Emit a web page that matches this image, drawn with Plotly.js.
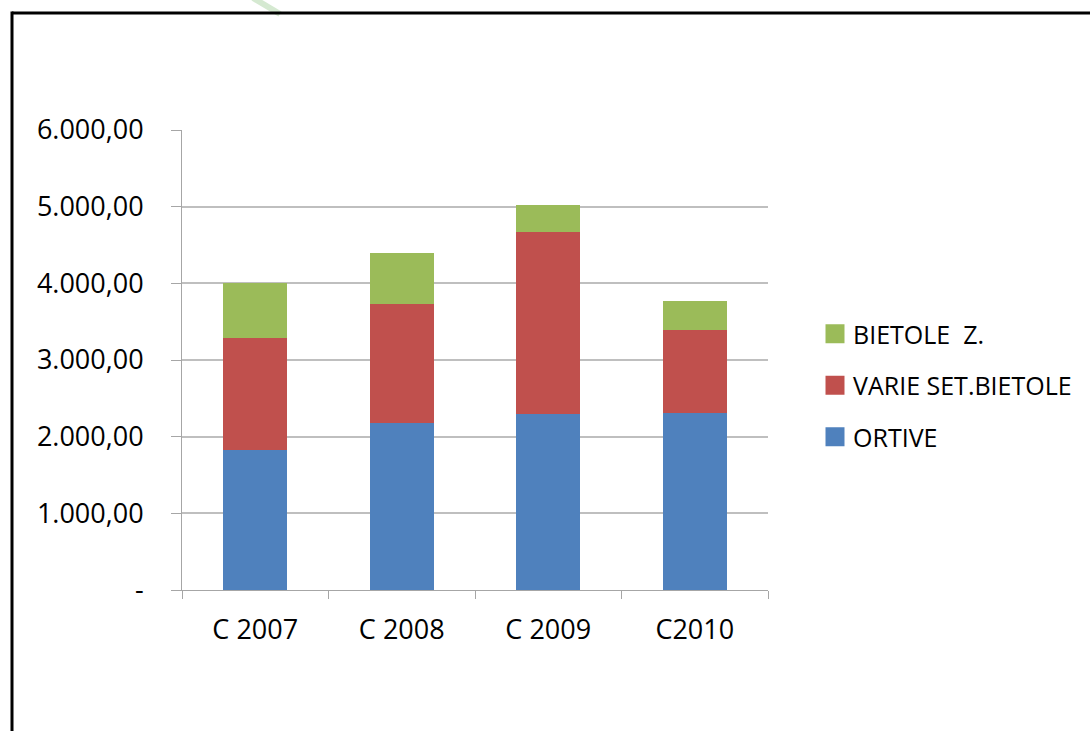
<!DOCTYPE html>
<html>
<head>
<meta charset="utf-8">
<script src="https://cdn.plot.ly/plotly-3.0.1.min.js"></script>
<style>
  html, body { margin: 0; padding: 0; background: #ffffff; }
  #chart { width: 1090px; height: 731px; }
</style>
</head>
<body>
<div id="chart"></div>
<script>
// ---- data ----
const categories = ["C 2007", "C 2008", "C 2009", "C2010"];
const ortive = [1830, 2174, 2292, 2310];
const varieSetBietole = [1451, 1551, 2379, 1076];
const bietoleZ = [719, 667, 349, 379];
const yTickVals = [0, 1000, 2000, 3000, 4000, 5000, 6000];
const yTickText = ["-", "1.000,00", "2.000,00", "3.000,00", "4.000,00", "5.000,00", "6.000,00"];

// ---- layout geometry ----
const W = 1090, H = 731;
const M = { l: 182, r: 322, t: 130, b: 141 };
const pw = W - M.l - M.r, ph = H - M.t - M.b;
const px = x => (x - M.l) / pw;
const py = y => (H - M.b - y) / ph;

const FONT = "Open Sans, Noto Sans, sans-serif";

const series = [
  { name: "ORTIVE", y: ortive, color: "#4f81bd" },
  { name: "VARIE SET.BIETOLE", y: varieSetBietole, color: "#c0504d" },
  { name: "BIETOLE  Z.", y: bietoleZ, color: "#9bbb59" }
];
const traces = series.map((s, i) => ({
  type: "bar",
  name: s.name,
  x: categories,
  y: s.y,
  legendgroup: "g" + i,
  legendrank: series.length - i,
  marker: { color: s.color, line: { width: 0 } }
}));

const layout = {
  width: W, height: H,
  margin: M,
  paper_bgcolor: "#ffffff",
  plot_bgcolor: "#ffffff",
  barmode: "stack",
  bargap: 0.565,
  showlegend: true,
  font: { family: FONT, color: "#000000" },
  xaxis: {
    type: "category",
    showgrid: false,
    showline: true,
    linecolor: "#a6a6a6",
    linewidth: 1,
    ticks: "outside",
    tickson: "boundaries",
    ticklen: 8,
    tickcolor: "#a6a6a6",
    tickfont: { family: FONT, size: 27, color: "#000000" },
    ticklabelstandoff: 16,
    zeroline: false,
    fixedrange: true
  },
  yaxis: {
    range: [0, 6000],
    tickvals: yTickVals,
    ticktext: yTickText,
    showgrid: true,
    gridcolor: "#bfbfbf",
    gridwidth: 2,
    showline: true,
    linecolor: "#a6a6a6",
    linewidth: 1,
    ticks: "outside",
    ticklen: 10,
    tickcolor: "#a6a6a6",
    tickfont: { family: FONT, size: 27, color: "#000000" },
    ticklabelstandoff: 22,
    zeroline: false,
    fixedrange: true
  },
  legend: {
    x: px(813), xanchor: "left",
    y: py(311), yanchor: "top",
    traceorder: "grouped",
    tracegroupgap: 16,
    font: { family: FONT, size: 25, color: "#000000" },
    bgcolor: "rgba(0,0,0,0)",
    borderwidth: 0
  },
  shapes: [
    { type: "line", xref: "paper", yref: "paper", layer: "below",
      x0: px(253), y0: py(-2), x1: px(280), y1: py(14),
      line: { color: "#d5e9d1", width: 6 } },
    { type: "line", xref: "paper", yref: "paper",
      x0: px(12), y0: py(13), x1: px(1100), y1: py(13),
      line: { color: "#000000", width: 3 } },
    { type: "line", xref: "paper", yref: "paper",
      x0: px(12), y0: py(11.5), x1: px(12), y1: py(740),
      line: { color: "#000000", width: 3 } }
  ]
};

Plotly.newPlot("chart", traces, layout, { displayModeBar: false }).then(() => {
  // enlarge the legend swatches to the reference's square size
  document.querySelectorAll("#chart .legend .legendpoints path").forEach(p => {
    p.setAttribute("d", "M9.5,9.5H-9.5V-9.5H9.5Z");
    p.setAttribute("transform", "translate(22,0)");
  });
});
</script>
</body>
</html>
